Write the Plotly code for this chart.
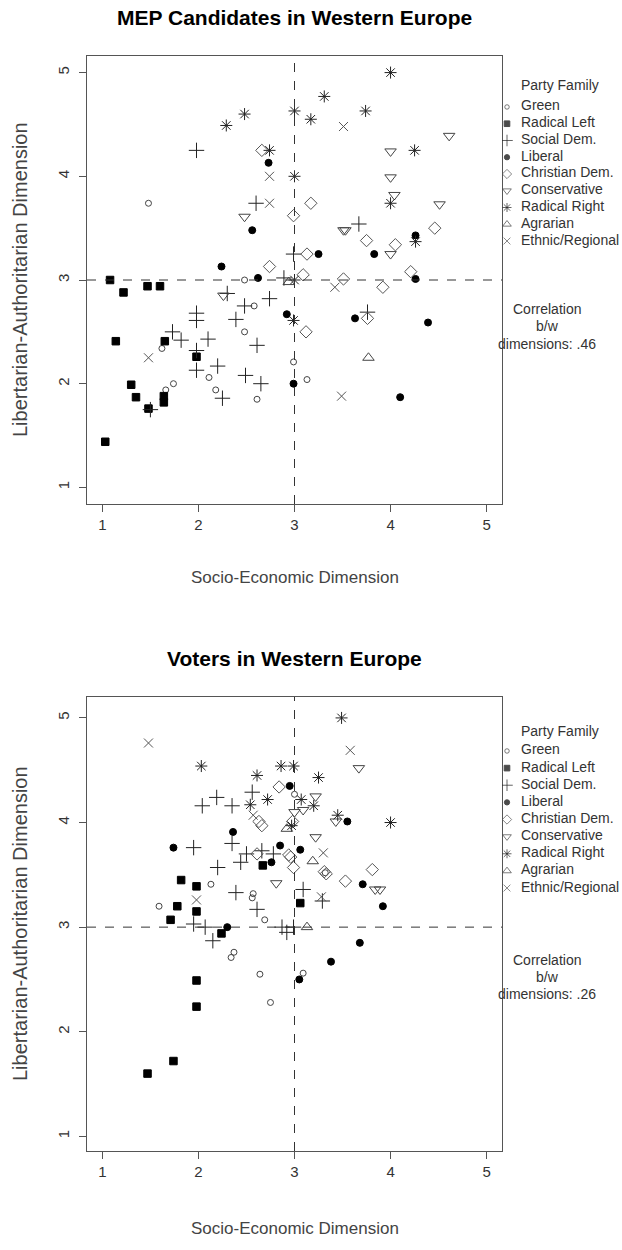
import plotly.graph_objects as go

# ---------------- data ----------------
FAMILIES = ["Green", "Radical Left", "Social Dem.", "Liberal", "Christian Dem.",
            "Conservative", "Radical Right", "Agrarian", "Ethnic/Regional"]
TICKS = [1, 2, 3, 4, 5]
MIDPOINT = 3
PANEL_TITLES = ["MEP Candidates in Western Europe", "Voters in Western Europe"]
X_TITLE = "Socio-Economic Dimension"
Y_TITLE = "Libertarian-Authoritarian Dimension"
CORRELATIONS = [".46", ".26"]

# MEP candidates (socio-economic x, libertarian-authoritarian y)
MEP_GREEN_X = [1.48, 2.48, 2.58, 2.48, 1.62, 2.99, 2.11, 1.74, 1.66, 2.18, 2.61, 3.13]
MEP_GREEN_Y = [3.74, 3.00, 2.75, 2.50, 2.34, 2.21, 2.06, 2.00, 1.94, 1.94, 1.85, 2.04]
MEP_RADLEFT_X = [1.08, 1.22, 1.47, 1.60, 1.14, 1.65, 1.98, 1.30, 1.35, 1.64, 1.64, 1.48, 1.03]
MEP_RADLEFT_Y = [3.00, 2.88, 2.94, 2.94, 2.41, 2.41, 2.26, 1.99, 1.87, 1.88, 1.82, 1.76, 1.44]
MEP_SOCDEM_X = [1.98, 2.60, 2.99, 2.89, 2.30, 2.74, 3.67, 2.48, 1.98, 1.98, 2.39, 1.73,
                1.82, 2.10, 2.61, 1.98, 2.20, 1.98, 2.49, 2.65, 2.25, 1.50, 3.76]
MEP_SOCDEM_Y = [4.25, 3.74, 3.25, 3.02, 2.87, 2.82, 3.54, 2.75, 2.68, 2.61, 2.62, 2.50,
                2.42, 2.43, 2.37, 2.32, 2.17, 2.13, 2.08, 2.00, 1.86, 1.75, 2.69]
MEP_LIBERAL_X = [2.73, 2.56, 2.24, 2.62, 3.25, 3.83, 4.26, 4.26, 2.92, 2.99, 3.63, 4.39, 4.10]
MEP_LIBERAL_Y = [4.13, 3.48, 3.13, 3.02, 3.25, 3.25, 3.43, 3.01, 2.67, 2.00, 2.63, 2.59, 1.87]
MEP_CHRISTDEM_X = [2.66, 2.99, 2.74, 3.17, 3.75, 4.05, 4.46, 3.13, 3.09, 3.51, 3.92, 4.21, 3.12, 3.76]
MEP_CHRISTDEM_Y = [4.25, 3.62, 3.13, 3.74, 3.38, 3.34, 3.50, 3.25, 3.05, 3.01, 2.93, 3.08, 2.50, 2.63]
MEP_CONSERV_X = [2.48, 2.26, 4.61, 4.00, 4.00, 4.04, 4.51, 3.51, 3.53, 4.00]
MEP_CONSERV_Y = [3.61, 2.85, 4.39, 4.24, 3.99, 3.82, 3.73, 3.48, 3.48, 3.25]
MEP_RADRIGHT_X = [3.00, 2.48, 2.29, 2.74, 3.00, 4.00, 3.31, 3.17, 3.74, 4.25, 4.00, 4.26, 3.00, 2.99]
MEP_RADRIGHT_Y = [4.63, 4.60, 4.49, 4.25, 4.00, 5.00, 4.77, 4.55, 4.63, 4.25, 3.74, 3.37, 3.00, 2.61]
MEP_AGRARIAN_X = [2.94, 3.77]
MEP_AGRARIAN_Y = [2.98, 2.25]
MEP_ETHNIC_X = [2.74, 2.74, 3.51, 3.42, 1.48, 3.49]
MEP_ETHNIC_Y = [4.00, 3.74, 4.48, 2.93, 2.25, 1.88]

# Voters
VOT_GREEN_X = [3.00, 2.13, 2.57, 2.56, 1.59, 2.69, 2.37, 2.34, 2.64, 2.75, 3.09, 3.32]
VOT_GREEN_Y = [4.27, 3.41, 3.32, 3.28, 3.20, 3.07, 2.76, 2.71, 2.55, 2.28, 2.56, 3.52]
VOT_RADLEFT_X = [2.67, 1.82, 1.98, 1.78, 1.98, 1.71, 3.06, 2.24, 1.98, 1.98, 1.74, 1.47]
VOT_RADLEFT_Y = [3.59, 3.45, 3.39, 3.20, 3.15, 3.07, 3.23, 2.94, 2.49, 2.24, 1.72, 1.60]
VOT_SOCDEM_X = [2.56, 2.19, 2.04, 2.35, 1.95, 2.35, 2.50, 2.66, 2.78, 2.20, 2.44, 2.39,
                2.61, 3.09, 3.29, 2.99, 1.95, 2.07, 2.15, 2.87, 2.92]
VOT_SOCDEM_Y = [4.29, 4.24, 4.16, 4.16, 3.76, 3.80, 3.70, 3.73, 3.70, 3.57, 3.62, 3.33,
                3.17, 3.36, 3.25, 3.00, 3.03, 3.00, 2.87, 3.00, 2.95]
VOT_LIBERAL_X = [2.95, 2.36, 1.74, 2.85, 3.06, 2.76, 3.55, 3.71, 3.92, 2.30, 3.05, 3.68, 3.38]
VOT_LIBERAL_Y = [4.35, 3.91, 3.76, 3.78, 3.74, 3.62, 4.01, 3.41, 3.20, 3.00, 2.50, 2.85, 2.67]
VOT_CHRISTDEM_X = [2.84, 2.63, 2.66, 2.98, 2.61, 2.94, 2.96, 2.99, 3.31, 3.33, 3.81, 3.53]
VOT_CHRISTDEM_Y = [4.34, 4.01, 3.97, 4.01, 3.70, 3.69, 3.67, 3.57, 3.53, 3.51, 3.55, 3.44]
VOT_CONSERV_X = [3.00, 2.81, 3.67, 3.22, 3.09, 3.43, 3.22, 3.84, 3.89]
VOT_CONSERV_Y = [4.10, 3.42, 4.52, 4.25, 4.12, 4.01, 3.86, 3.36, 3.36]
VOT_RADRIGHT_X = [3.49, 2.03, 2.86, 2.99, 2.61, 2.72, 2.54, 3.25, 3.07, 3.20, 2.97, 3.45, 4.00]
VOT_RADRIGHT_Y = [5.00, 4.54, 4.54, 4.54, 4.45, 4.22, 4.17, 4.43, 4.22, 4.16, 3.97, 4.07, 4.00]
VOT_AGRARIAN_X = [2.92, 3.19, 3.13]
VOT_AGRARIAN_Y = [3.94, 3.63, 3.00]
VOT_ETHNIC_X = [1.48, 3.58, 2.57, 1.98, 3.30, 3.28]
VOT_ETHNIC_Y = [4.76, 4.69, 4.07, 3.26, 3.71, 3.29]

MEP_X = [MEP_GREEN_X, MEP_RADLEFT_X, MEP_SOCDEM_X, MEP_LIBERAL_X, MEP_CHRISTDEM_X,
         MEP_CONSERV_X, MEP_RADRIGHT_X, MEP_AGRARIAN_X, MEP_ETHNIC_X]
MEP_Y = [MEP_GREEN_Y, MEP_RADLEFT_Y, MEP_SOCDEM_Y, MEP_LIBERAL_Y, MEP_CHRISTDEM_Y,
         MEP_CONSERV_Y, MEP_RADRIGHT_Y, MEP_AGRARIAN_Y, MEP_ETHNIC_Y]
VOT_X = [VOT_GREEN_X, VOT_RADLEFT_X, VOT_SOCDEM_X, VOT_LIBERAL_X, VOT_CHRISTDEM_X,
         VOT_CONSERV_X, VOT_RADRIGHT_X, VOT_AGRARIAN_X, VOT_ETHNIC_X]
VOT_Y = [VOT_GREEN_Y, VOT_RADLEFT_Y, VOT_SOCDEM_Y, VOT_LIBERAL_Y, VOT_CHRISTDEM_Y,
         VOT_CONSERV_Y, VOT_RADRIGHT_Y, VOT_AGRARIAN_Y, VOT_ETHNIC_Y]

# ---------------- styling ----------------
W, H = 622, 1250
FONT = "Liberation Sans, Arial, sans-serif"
STYLE = {
    "Green":           dict(symbol="circle-open",        size=6,   color="#444444"),
    "Radical Left":    dict(symbol="square",             size=7.5, color="#000000"),
    "Social Dem.":     dict(symbol="cross-thin-open",    size=11,  color="#222222"),
    "Liberal":         dict(symbol="circle",             size=7,   color="#000000"),
    "Christian Dem.":  dict(symbol="diamond-open",       size=9.5, color="#555555"),
    "Conservative":    dict(symbol="triangle-down-open", size=10,  color="#444444"),
    "Radical Right":   dict(symbol="asterisk-open",      size=10,  color="#222222"),
    "Agrarian":        dict(symbol="triangle-up-open",   size=10,  color="#444444"),
    "Ethnic/Regional": dict(symbol="x-thin-open",        size=9,   color="#555555"),
}

def px_x(p):
    return p / W

def px_y(p):
    return 1 - p / H

# panel geometry in pixels
BOX_L, BOX_R = 87, 502
PANELS = [
    dict(top=56, bottom=504, yrange=[0.84, 5.16], title_y=18, xlab_y=578,
         leg_top=98.6, leg_bot=249.4, pf_y=85, corr_y=[309, 326, 344]),
    dict(top=697, bottom=1151, yrange=[0.86, 5.2], title_y=658, xlab_y=1228,
         leg_top=742.4, leg_bot=896.6, pf_y=731, corr_y=[960, 977, 994]),
]

fig = go.Figure()
layout = dict(width=W, height=H, margin=dict(l=0, r=0, t=0, b=0),
              paper_bgcolor="white", plot_bgcolor="white", showlegend=False,
              font=dict(family=FONT, size=14, color="#333333"))
annotations = []
shapes = []

datasets = [(MEP_X, MEP_Y), (VOT_X, VOT_Y)]
for i, (panel, (XS, YS)) in enumerate(zip(PANELS, datasets)):
    xa = "x" if i == 0 else "x2"
    ya = "y" if i == 0 else "y2"
    lxa = "x3" if i == 0 else "x4"
    lya = "y3" if i == 0 else "y4"
    for fam, xs, ys in zip(FAMILIES, XS, YS):
        st = STYLE[fam]
        fig.add_trace(go.Scatter(
            x=xs, y=ys, mode="markers", name=fam, xaxis=xa, yaxis=ya,
            marker=dict(symbol=st["symbol"], size=st["size"], color=st["color"],
                        line=dict(width=1, color=st["color"])),
            hoverinfo="x+y+name"))
    # legend markers and labels on a dedicated hidden axis
    fig.add_trace(go.Scatter(
        x=[0] * len(FAMILIES), y=FAMILIES, mode="markers", xaxis=lxa, yaxis=lya,
        marker=dict(symbol=[STYLE[f]["symbol"] for f in FAMILIES],
                    size=[STYLE[f]["size"] * 0.75 for f in FAMILIES],
                    color=[STYLE[f]["color"] for f in FAMILIES],
                    line=dict(width=1, color=[STYLE[f]["color"] for f in FAMILIES])),
        hoverinfo="skip"))
    fig.add_trace(go.Scatter(
        x=[1] * len(FAMILIES), y=FAMILIES, mode="text", text=FAMILIES,
        textposition="middle right", xaxis=lxa, yaxis=lya,
        textfont=dict(family=FONT, size=14, color="#333333"), hoverinfo="skip"))

    suffix = "" if i == 0 else str(i + 1)
    dom_x = [px_x(BOX_L), px_x(BOX_R)]
    dom_y = [px_y(panel["bottom"]), px_y(panel["top"])]
    axis_common = dict(showgrid=False, zeroline=False, showline=True, mirror=True,
                       linecolor="#555555", linewidth=1.3, ticks="outside",
                       ticklen=7, tickcolor="#555555", tickwidth=1,
                       tickvals=TICKS, ticktext=[str(t) for t in TICKS],
                       tickfont=dict(family=FONT, size=15, color="#333333"))
    layout["xaxis" + suffix] = dict(axis_common, domain=dom_x, range=[0.84, 5.16],
                                    anchor=ya)
    layout["yaxis" + suffix] = dict(axis_common, domain=dom_y, range=panel["yrange"],
                                    anchor=xa, tickangle=-90, ticklabelstandoff=4)
    lsuf = str(i + 3)
    layout["xaxis" + lsuf] = dict(domain=[px_x(BOX_R), 1.0], range=[-0.357, 8.214],
                                  visible=False, anchor=lya, fixedrange=True)
    layout["yaxis" + lsuf] = dict(domain=[px_y(panel["leg_bot"]), px_y(panel["leg_top"])],
                                  range=[len(FAMILIES) - 0.5, -0.5], type="category",
                                  categoryorder="array", categoryarray=FAMILIES,
                                  visible=False, anchor=lxa, fixedrange=True)
    shapes.append(dict(type="line", xref=xa, yref=ya + " domain", x0=MIDPOINT, x1=MIDPOINT,
                       y0=0, y1=1, line=dict(color="#333333", width=1, dash="dash")))
    shapes.append(dict(type="line", xref=xa + " domain", yref=ya, x0=0, x1=1,
                       y0=MIDPOINT, y1=MIDPOINT, line=dict(color="#333333", width=1, dash="dash")))
    annotations.append(dict(text="<b>" + PANEL_TITLES[i] + "</b>", xref="paper", yref="paper",
                            x=px_x((BOX_L + BOX_R) / 2), y=px_y(panel["title_y"]),
                            xanchor="center", yanchor="middle", showarrow=False,
                            font=dict(family=FONT, size=21, color="#000000")))
    annotations.append(dict(text=X_TITLE, xref="paper", yref="paper",
                            x=px_x((BOX_L + BOX_R) / 2), y=px_y(panel["xlab_y"]),
                            xanchor="center", yanchor="middle", showarrow=False,
                            font=dict(family=FONT, size=17, color="#444444")))
    annotations.append(dict(text=Y_TITLE, xref="paper", yref="paper", textangle=-90,
                            x=px_x(20), y=px_y((panel["top"] + panel["bottom"]) / 2),
                            xanchor="center", yanchor="middle", showarrow=False,
                            font=dict(family=FONT, size=20, color="#444444")))
    annotations.append(dict(text="Party Family", xref="paper", yref="paper",
                            x=px_x(519), y=px_y(panel["pf_y"]),
                            xanchor="left", yanchor="middle", showarrow=False,
                            font=dict(family=FONT, size=14, color="#333333")))
    for line_txt, yy in zip(["Correlation", "b/w", "dimensions: " + CORRELATIONS[i]],
                            panel["corr_y"]):
        annotations.append(dict(text=line_txt, xref="paper", yref="paper",
                                x=px_x(547), y=px_y(yy), xanchor="center",
                                yanchor="middle", showarrow=False,
                                font=dict(family=FONT, size=14, color="#333333")))

layout["annotations"] = annotations
layout["shapes"] = shapes
fig.update_layout(**layout)
fig.write_html("out.html", config={"displayModeBar": False},
               post_script="document.body.style.margin='0px';")
